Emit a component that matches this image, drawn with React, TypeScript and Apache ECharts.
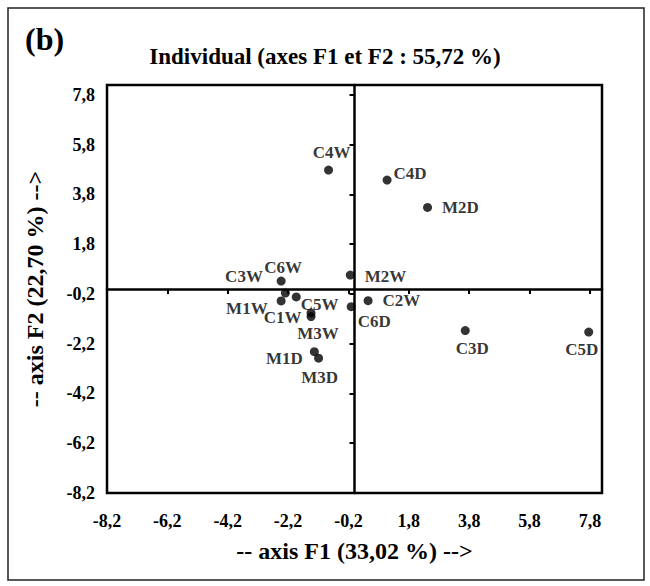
import React, { useEffect, useRef } from "react";
import * as echarts from "echarts";

// ---- data ----
const pointNames = [
  "C4W", "C4D", "M2D", "M2W", "C2W", "C6D", "C3D", "C5D",
  "C6W", "C3W", "C5W", "M1W", "C1W", "M3W", "M1D", "M3D",
];
const f1Values = [
  -0.86, 1.08, 2.42, -0.14, 0.45, -0.11, 3.67, 7.76,
  -2.43, -2.29, -1.93, -2.43, -1.44, -1.44, -1.33, -1.19,
];
const f2Values = [
  4.78, 4.38, 3.28, 0.56, -0.47, -0.71, -1.67, -1.73,
  0.32, -0.16, -0.32, -0.48, -0.96, -1.11, -2.52, -2.78,
];
const tickValues = [-8.2, -6.2, -4.2, -2.2, -0.2, 1.8, 3.8, 5.8, 7.8];
const axisMin = -8.2;
const axisMax = 8.2;

const titleText = "Individual (axes F1 et F2 : 55,72 %)";
const panelText = "(b)";
const xName = "-- axis F1 (33,02 %) -->";
const yName = "-- axis F2 (22,70 %) -->";

// label placement per point: [position, dx, dy]
const labelPlacement: Record<string, [string, number, number]> = {
  C4W: ["top", 3, 0],
  C4D: ["right", -3, -7],
  M2D: ["right", 5, 0],
  M2W: ["right", 5, 1],
  C2W: ["right", 5, 0],
  C6D: ["bottom", 23, -3],
  C3D: ["bottom", 7, 0],
  C5D: ["bottom", -7, -1],
  C6W: ["top", 2, 4],
  C3W: ["left", -13, -16],
  C5W: ["right", -5, 8],
  M1W: ["left", -4, 8],
  C1W: ["left", 0, 5],
  M3W: ["bottom", 7, -1],
  M1D: ["left", -2, 7],
  M3D: ["bottom", 1, 1],
};

const FONT = "'Liberation Serif', 'Times New Roman', serif";
const fmt = (v: number) => v.toFixed(1).replace(".", ",");

export default function App() {
  const ref = useRef<HTMLDivElement>(null);
  useEffect(() => {
    if (!ref.current) return;
    const chart = echarts.init(ref.current, undefined, { renderer: "svg" });
    const data = pointNames.map((n, i) => {
      const p = labelPlacement[n];
      return {
        name: n,
        value: [f1Values[i], f2Values[i]],
        label: { position: p[0], offset: [p[1], p[2]] },
      };
    });
    const pointLabelStyle = {
      fontFamily: FONT,
      fontWeight: "bold" as const,
      fontSize: 17,
      color: "#000",
    };
    const tickLabelStyle = {
      fontFamily: FONT,
      fontWeight: "bold" as const,
      fontSize: 18,
      color: "#000",
    };
    const nameStyle = { fontFamily: FONT, fontWeight: "bold", fontSize: 24, color: "#000" };
    chart.setOption({
      animation: false,
      backgroundColor: "#fff",
      title: [
        {
          text: panelText,
          left: 20,
          top: 18,
          textStyle: { fontFamily: FONT, fontWeight: "bold", fontSize: 32, color: "#000" },
        },
        {
          text: titleText,
          left: "center",
          top: 40,
          textStyle: { fontFamily: FONT, fontWeight: "bold", fontSize: 23, color: "#000" },
        },
      ],
      graphic: [
        {
          type: "rect",
          shape: { x: 8, y: 8, width: 636, height: 572 },
          style: { fill: "none", stroke: "#222", lineWidth: 1.5 },
          silent: true,
        },
      ],
      grid: {
        left: 107,
        right: 48,
        top: 85,
        bottom: 93,
        show: true,
        borderColor: "#000",
        borderWidth: 2.5,
        containLabel: false,
      },
      xAxis: [
        {
          type: "value",
          min: axisMin,
          max: axisMax,
          position: "bottom",
          axisLine: { show: false, onZero: false },
          axisTick: { show: false },
          splitLine: { show: false },
          axisLabel: {
            customValues: tickValues,
            formatter: (v: number) => fmt(v),
            ...tickLabelStyle,
            margin: 19,
          },
          name: xName,
          nameLocation: "middle",
          nameGap: 46,
          nameTextStyle: nameStyle,
        },
        {
          type: "value",
          min: axisMin,
          max: axisMax,
          position: "bottom",
          axisLine: {
            show: true,
            onZero: true,
            onZeroAxisIndex: 0,
            lineStyle: { color: "#000", width: 2.5 },
          },
          axisTick: {
            show: true,
            customValues: tickValues,
            length: 5,
            lineStyle: { color: "#000", width: 2 },
          },
          axisLabel: { show: false },
          splitLine: { show: false },
        },
      ],
      yAxis: [
        {
          type: "value",
          min: axisMin,
          max: axisMax,
          position: "left",
          axisLine: { show: false, onZero: false },
          axisTick: { show: false },
          splitLine: { show: false },
          axisLabel: {
            customValues: tickValues,
            formatter: (v: number) => fmt(v),
            ...tickLabelStyle,
            margin: 12,
          },
          name: yName,
          nameLocation: "middle",
          nameGap: 60,
          nameTextStyle: nameStyle,
        },
        {
          type: "value",
          min: axisMin,
          max: axisMax,
          position: "left",
          axisLine: {
            show: true,
            onZero: true,
            onZeroAxisIndex: 0,
            lineStyle: { color: "#000", width: 2.5 },
          },
          axisTick: {
            show: true,
            customValues: tickValues,
            length: 5,
            lineStyle: { color: "#000", width: 2 },
          },
          axisLabel: { show: false },
          splitLine: { show: false },
        },
      ],
      series: [
        {
          type: "scatter",
          xAxisIndex: 0,
          yAxisIndex: 0,
          symbol: "circle",
          symbolSize: 9,
          itemStyle: { color: "#000" },
          label: { show: true, formatter: "{b}", distance: 5, ...pointLabelStyle },
          data,
          z: 5,
        },
      ],
    });
    return () => chart.dispose();
  }, []);
  return (
    <div
      ref={ref}
      style={{ position: "fixed", left: 0, top: 0, width: 650, height: 586, background: "#fff" }}
    />
  );
}
